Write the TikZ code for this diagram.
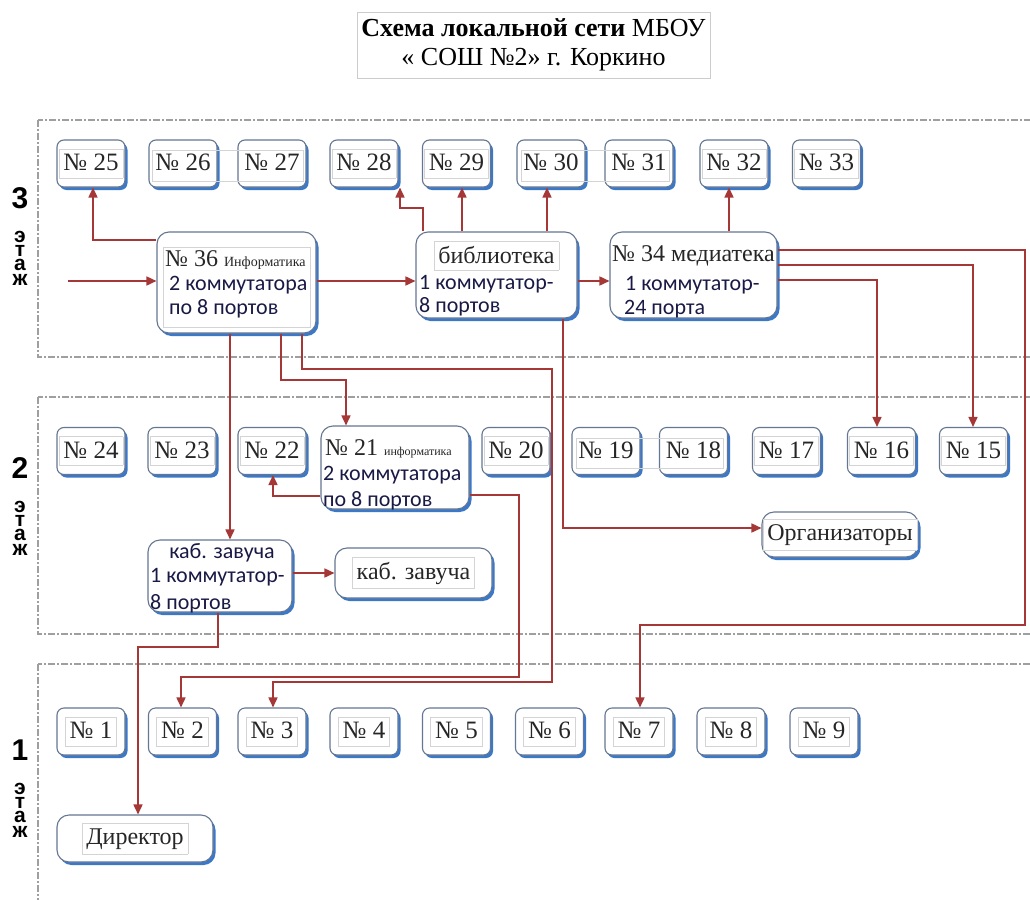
\documentclass[tikz,border=0pt]{standalone}
\usepackage{fontspec}
\setmainfont{Liberation Serif}
\setsansfont{Liberation Sans}
\newfontfamily\carl{Carlito}
\usetikzlibrary{arrows.meta,shadows}
\definecolor{edgered}{RGB}{165,55,55}
\definecolor{boxline}{RGB}{100,118,145}
\definecolor{shadowblue}{RGB}{60,120,200}
\definecolor{navy}{RGB}{25,25,70}
\definecolor{framegray}{RGB}{212,212,212}
\newcommand\nr[1]{{\setlength\fboxsep{4pt}\setlength\fboxrule{0.8pt}\fcolorbox{framegray}{white}{\rule[-3pt]{0pt}{20pt}#1}}}
\tikzset{
 room/.style={draw=boxline, line width=1.1pt, fill=white, rounded corners=7pt,
   minimum width=68pt, minimum height=47pt, inner sep=0pt,
   drop shadow={shadow xshift=2.5pt, shadow yshift=-3pt, fill=shadowblue, opacity=1},
   font=\fontsize{25}{28}\selectfont, text=black!85},
 bigbox/.style={room, rounded corners=12pt, font=\fontsize{24}{28}\selectfont},
 arr/.style={draw=edgered, line width=1.6pt, -{Triangle[length=10pt,width=9pt]}},
 floorframe/.style={draw=gray!75, line width=1.1pt, dash pattern=on 7pt off 2pt on 2pt off 2pt},
 swtext/.style={font=\carl\fontsize{22}{24}\selectfont, text=navy, inner sep=0pt, anchor=base west},
 sertext/.style={font=\fontsize{24}{28}\selectfont, text=black!85, inner sep=0pt},
 flab/.style={font=\sffamily\bfseries\fontsize{30}{30}\selectfont, inner sep=0pt},
 flet/.style={font=\sffamily\bfseries\fontsize{21}{21}\selectfont, inner sep=0pt, anchor=base,
   text height=11pt, text depth=0pt},
 thinframe/.style={draw=framegray, line width=0.8pt},
}
\begin{document}
\begin{tikzpicture}[x=1pt,y=-1pt]
\useasboundingbox (0,0) rectangle (1030,899);
\clip (0,0) rectangle (1030,899);
\fill[white] (0,0) rectangle (1030,899);

% title
\node[draw=gray!40, line width=0.8pt, minimum width=353pt, minimum height=66pt, align=center,
  font=\fontsize{26}{29}\selectfont, inner sep=0pt] (title) at (533.5,45)
  {\textbf{Схема локальной сети} МБОУ\\« СОШ №2» г. Коркино};

% floor frames
\draw[floorframe] (38,120) rectangle (1045,357);
\draw[floorframe] (38,397) rectangle (1045,634);
\draw[floorframe] (38,664) rectangle (1045,920);

% floor labels
\foreach \f/\y in {3/198,2/468,1/750}{
  \node[flab] (f\f) at (20,\y) {\f};
  \node[flet] (f\f e) at (20,\y+44) {э};
  \node[flet] (f\f t) at (20,\y+58) {т};
  \node[flet] (f\f a) at (20,\y+72) {а};
  \node[flet] (f\f z) at (20,\y+87) {ж};
}

% floor 3 rooms
\foreach \n/\x in {25/91,28/364,29/456.5,32/734,33/826.5}
  \node[room] (n\n) at (\x,163.5) {\nr{№ \n}};
\foreach \n/\x in {26/183,27/272,30/551,31/639}
  \node[room] (n\n) at (\x,163.5) {\rule[-3pt]{0pt}{20pt}№ \n};
\draw[thinframe] (152,150) rectangle (303,181);
\draw[thinframe] (521,150) rectangle (669,181);

% floor 2 rooms
\foreach \n/\x in {24/91,23/182,22/272,20/516,17/786.5,16/881.5,15/973.5}
  \node[room] (n\n) at (\x,451) {\nr{№ \n}};
\foreach \n/\x in {19/606,18/693.5}
  \node[room] (n\n) at (\x,451) {\rule[-3pt]{0pt}{20pt}№ \n};
\draw[thinframe] (576,438) rectangle (723,468);

% floor 1 rooms
\foreach \n/\x in {1/91,2/182.5,3/272,4/364,5/456.5,6/549.5,7/639,8/731,9/824}
  \node[room] (n\n) at (\x,731.5) {\nr{№ \n}};

% big boxes
\node[bigbox, minimum width=159pt, minimum height=101pt] (n36) at (236.5,282.5) {};
\draw[thinframe] (163,247) rectangle (310,327);
\node[sertext, anchor=base west] (n36a) at (165,266) {№ 36 {\fontsize{14}{16}\selectfont Информатика}};
\node[swtext] (n36b) at (169,290) {2 коммутатора};
\node[swtext] (n36c) at (169,314) {по 8 портов};

\node[bigbox, minimum width=161pt, minimum height=86pt] (lib) at (496.5,275) {};
\node[sertext] (liba) at (496.5,256) {\nr{библиотека}};
\node[swtext] (libb) at (419,289) {1 коммутатор-};
\node[swtext] (libc) at (419,312) {8 портов};

\node[bigbox, minimum width=167pt, minimum height=86pt] (n34) at (693.5,275) {};
\node[sertext] (n34a) at (693.5,256) {№ 34 медиатека};
\node[swtext] (n34b) at (625,290) {1 коммутатор-};
\node[swtext] (n34c) at (624,314) {24 порта};

\node[bigbox, minimum width=148pt, minimum height=83pt] (n21) at (395,467.5) {};
\node[sertext, anchor=base west] (n21a) at (325,455) {№ 21 {\fontsize{12}{14}\selectfont информатика}};
\node[swtext] (n21b) at (323,480) {2 коммутатора};
\node[swtext] (n21c) at (323,506) {по 8 портов};

\node[bigbox, minimum width=144pt, minimum height=72pt] (sw2) at (220,576) {};
\node[swtext, anchor=center] (sw2a) at (222,553) {каб. завуча};
\node[swtext] (sw2b) at (150,582) {1 коммутатор-};
\node[swtext] (sw2c) at (150,609) {8 портов};

\node[bigbox, minimum width=157pt, minimum height=50pt] (kz) at (413.5,573) {\nr{каб. завуча}};
\node[bigbox, minimum width=156pt, minimum height=45pt] (org) at (840,534.5) {\nr{Организаторы}};
\node[bigbox, minimum width=156pt, minimum height=47pt] (dir) at (135,838.5) {\nr{Директор}};

% connectors
\coordinate (in) at (68,281);
\draw[arr] (in) -- (n36.west |- in);
\draw[arr] (n36.west |- 0,240) -| (n25.south -| 93,0);
\draw[arr] (n36.east |- 0,281) -- (lib.west |- 0,281);
\draw[arr] (lib.north -| 423,0) |- (400,208) -- (n28.south -| 400,0);
\draw[arr] (lib.north -| 462,0) -- (n29.south -| 462,0);
\draw[arr] (lib.north -| 547,0) -- (n30.south -| 547,0);
\draw[arr] (lib.east |- 0,281) -- (n34.west |- 0,281);
\draw[arr] (n34.north -| 729,0) -- (n32.south -| 729,0);
\draw[arr] (n34.east |- 0,250) -| (1025,625) -| (n7.north -| 640,0);
\draw[arr] (n34.east |- 0,265) -| (n15.north -| 973,0);
\draw[arr] (n34.east |- 0,280) -| (n16.north -| 877,0);
\draw[arr] (n36.south -| 230,0) -- (sw2.north -| 230,0);
\draw[arr] (n36.south -| 281,0) |- (346,380) -- (n21.north -| 346,0);
\draw[arr] (n36.south -| 302,0) |- (552,369) |- (273,682) -- (n3.north -| 273,0);
\draw[arr] (n21.east |- 0,495) -| (519,677) -| (n2.north -| 181,0);
\draw[arr] (n21.west |- 0,496) -| (n22.south -| 273,0);
\draw[arr] (lib.south -| 563,0) |- (org.west |- 0,528);
\draw[arr] (sw2.east |- 0,573) -- (kz.west |- 0,573);
\draw[arr] (sw2.south -| 218,0) |- (138,647) -- (dir.north -| 138,0);
\end{tikzpicture}
\end{document}
